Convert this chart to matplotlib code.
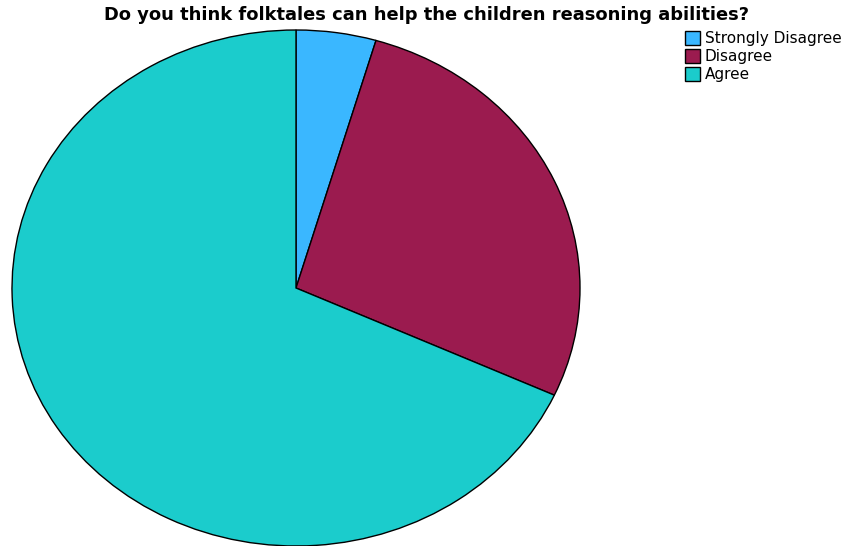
import matplotlib
matplotlib.use("Agg")
import matplotlib.pyplot as plt

labels = ["Strongly Disagree", "Disagree", "Agree"]
counts = [2, 12, 30]
colors = ["#3AB7FF", "#9B1B4F", "#1BCCCC"]

fig = plt.figure(figsize=(8.44, 5.46), dpi=100)
ax = fig.add_axes([12/844, 0, 568/844, 516/546])

wedges, _ = ax.pie(counts, colors=colors, startangle=90, counterclock=False,
                   wedgeprops=dict(edgecolor="black", linewidth=1))
ax.set_aspect("auto")
ax.set_xlim(-1, 1)
ax.set_ylim(-1, 1)
ax.axis("off")
for w in wedges:
    w.set_clip_on(False)

fig.suptitle("Do you think folktales can help the children reasoning abilities?",
             x=426/844, y=1 - 6/546, va="top", fontsize=12.9, fontweight="bold")

fig.legend(wedges, labels, loc="upper left", bbox_to_anchor=(685/844, 1 - 31/546),
           frameon=False, borderpad=0, borderaxespad=0, handlelength=1.0,
           handleheight=1.0, handletextpad=0.3, labelspacing=0.2, fontsize=11)

fig.savefig("out.png", dpi=100)
